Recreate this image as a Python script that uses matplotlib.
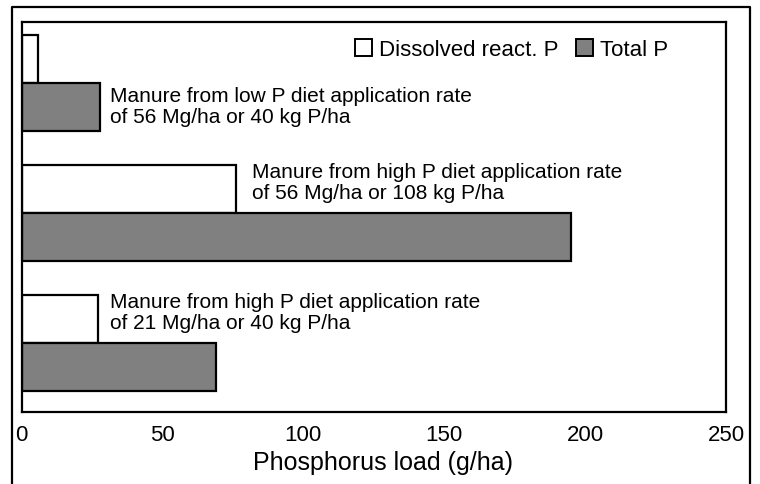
import matplotlib.pyplot as plt
from matplotlib.lines import Line2D
from matplotlib.patches import Patch

plt.rcParams['font.family'] = ['Liberation Sans', 'DejaVu Sans']

# groups from top to bottom
labels = ['Manure from low P diet application rate\nof 56 Mg/ha or 40 kg P/ha',
          'Manure from high P diet application rate\nof 56 Mg/ha or 108 kg P/ha',
          'Manure from high P diet application rate\nof 21 Mg/ha or 40 kg P/ha']
dissolved = [6, 76, 27]
total = [28, 195, 69]
xticks = [0, 50, 100, 150, 200, 250]

fig = plt.figure(figsize=(7.6, 4.85), dpi=100)
ax = fig.add_axes([0.0283, 0.1485, 0.927, 0.805])

ypos = [2, 1, 0]
h = 0.37
ax.barh([y + h / 2 for y in ypos], dissolved, height=h, color='white',
        edgecolor='black', linewidth=1.6)
ax.barh([y - h / 2 for y in ypos], total, height=h, color='#808080',
        edgecolor='black', linewidth=1.6)

# annotation text next to each group
text_x = [31.4, 81.8, 31.4]
text_y = [1.82, 1.24, 0.24]
for tx, ty, lab in zip(text_x, text_y, labels):
    ax.text(tx, ty, lab, fontsize=15, va='center', ha='left', linespacing=1.12)

ax.set_xlim(0, 250)
ax.set_ylim(-0.53, 2.47)
ax.set_xticks(xticks)
ax.set_xticklabels([str(t) for t in xticks], fontsize=16)
ax.tick_params(axis='x', length=0, pad=9)
ax.set_yticks([])
for s in ax.spines.values():
    s.set_linewidth(1.6)
ax.set_xlabel('Phosphorus load (g/ha)', fontsize=18, labelpad=3)
ax.xaxis.label.set_x(0.513)

handles = [Patch(facecolor='white', edgecolor='black', linewidth=1.4),
           Patch(facecolor='#808080', edgecolor='black', linewidth=1.4)]
ax.legend(handles, ['Dissolved react. P', 'Total P'], ncol=2, frameon=False,
          loc='center right', bbox_to_anchor=(0.918, 0.928), fontsize=16,
          handlelength=0.77, handleheight=0.77, handletextpad=0.3,
          columnspacing=0.8, borderaxespad=0, borderpad=0)

# outer frame around the figure
x0, x1, ytop = 0.0158, 0.9868, 0.9835
fig.add_artist(Line2D([x0, x0, x1, x1], [0, ytop, ytop, 0], color='black',
                      linewidth=1.6, transform=fig.transFigure))

fig.savefig('out.png', dpi=100)
